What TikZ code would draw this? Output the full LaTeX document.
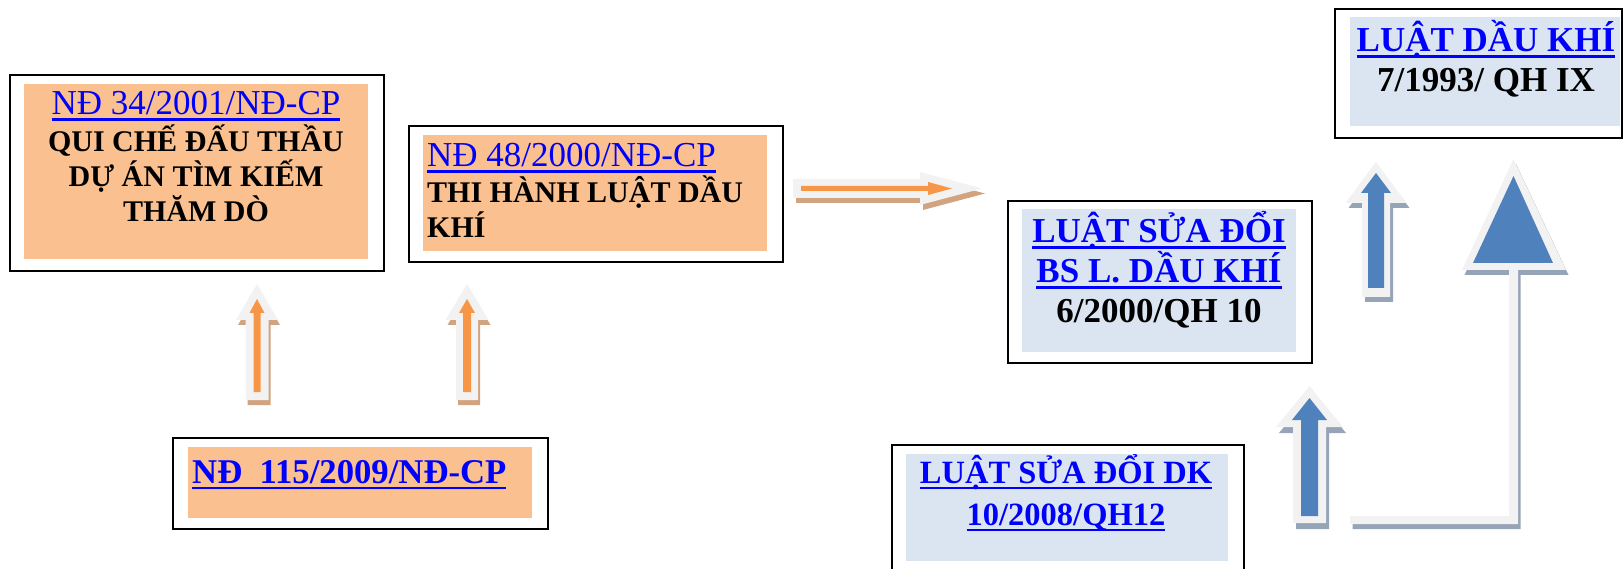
\documentclass[tikz,border=0pt]{standalone}
\usepackage{fontspec}
\setmainfont{Liberation Serif}
\definecolor{orfill}{HTML}{FAC090}
\definecolor{blfill}{HTML}{DBE5F1}
\definecolor{linkblue}{HTML}{0000FF}
\definecolor{arrorange}{HTML}{F79646}
\definecolor{arrblue}{HTML}{4F81BD}
\definecolor{arrlight}{HTML}{F2F2F2}
\definecolor{shadtan}{HTML}{D1A37F}
\definecolor{shadblue}{HTML}{96A4B7}
\newsavebox\ulbox
\newcommand\ulined[1]{\sbox\ulbox{#1}\rlap{\rule[-6pt]{\wd\ulbox}{2.5pt}}\usebox\ulbox}
% up arrow outline: head half-width, shaft half-width, head length, total length (tip at origin)
\newcommand\uppoly[4]{(0,0) -- (#1,#3) -- (#2,#3) -- (#2,#4) -- (-#2,#4) -- (-#2,#3) -- (-#1,#3) -- cycle}
\begin{document}
\begin{tikzpicture}[x=1pt,y=-1pt,
  frame/.style={draw=black,line width=2pt,fill=white,inner sep=0pt,anchor=north west},
  orpanel/.style={fill=orfill,inner sep=0pt,anchor=north west},
  blpanel/.style={fill=blfill,inner sep=0pt,anchor=north west},
  txt/.style={inner sep=0pt,anchor=base},
  txtl/.style={inner sep=0pt,anchor=base west},
  reg/.style={font=\fontsize{35}{40}\selectfont,text=linkblue},
  bld/.style={font=\fontsize{30}{36}\selectfont\bfseries},
  big/.style={font=\fontsize{35}{40}\selectfont\bfseries},
  mid/.style={font=\fontsize{32.5}{38}\selectfont\bfseries},
  lightbody/.style={fill=arrlight},
  tanshadow/.style={fill=shadtan},
  blueshadow/.style={fill=shadblue},
  orangecore/.style={fill=arrorange},
  bluecore/.style={fill=arrblue}]
\useasboundingbox (0,0) rectangle (1623,569);

% ---------- boxes ----------
\node[frame,minimum width=374,minimum height=196] (b1) at (9,74) {};
\node[orpanel,minimum width=344,minimum height=175] (b1p) at (24,84) {};
\node[frame,minimum width=374,minimum height=136] (b2) at (408,125) {};
\node[orpanel,minimum width=344,minimum height=116] (b2p) at (423,135) {};
\node[frame,minimum width=304,minimum height=162] (b3) at (1007,200) {};
\node[blpanel,minimum width=274,minimum height=143] (b3p) at (1022,209) {};
\node[frame,minimum width=287,minimum height=129] (b4) at (1334,8) {};
\node[blpanel,minimum width=270,minimum height=109] (b4p) at (1350,17) {};
\node[frame,minimum width=352,minimum height=146] (b5) at (891,444) {};
\node[blpanel,minimum width=322,minimum height=107] (b5p) at (906,454) {};
\node[frame,minimum width=375,minimum height=91] (b6) at (172,437) {};
\node[orpanel,minimum width=344,minimum height=71] (b6p) at (188,447) {};

% ---------- texts ----------
\node[txt,reg] (t1a) at (196,115) {\ulined{NĐ 34/2001/NĐ-CP}};
\node[txt,bld] (t1b) at (196,152) {QUI CHẾ ĐẤU THẦU};
\node[txt,bld] (t1c) at (196,187) {DỰ ÁN TÌM KIẾM};
\node[txt,bld] (t1d) at (196,222) {THĂM DÒ};

\node[txtl,reg] (t2a) at (427,167) {\ulined{NĐ 48/2000/NĐ-CP}};
\node[txtl,bld] (t2b) at (427,203) {THI HÀNH LUẬT DẦU};
\node[txtl,bld] (t2c) at (427,238) {KHÍ};

\node[txt,big,text=linkblue] (t3a) at (1159,243) {\ulined{LUẬT SỬA ĐỔI}};
\node[txt,big,text=linkblue] (t3b) at (1159,283) {\ulined{BS L. DẦU KHÍ}};
\node[txt,big] (t3c) at (1159,323) {6/2000/QH 10};

\node[txt,big,text=linkblue] (t4a) at (1486,52) {\ulined{LUẬT DẦU KHÍ}};
\node[txt,big] (t4b) at (1486,92) {7/1993/ QH IX};

\node[txt,mid,text=linkblue] (t5a) at (1066,483) {\ulined{LUẬT SỬA ĐỔI DK}};
\node[txt,mid,text=linkblue] (t5b) at (1066,525) {\ulined{10/2008/QH12}};

\node[txtl,font=\fontsize{34.7}{40}\selectfont\bfseries,text=linkblue] (t6) at (192,483) {\ulined{NĐ~~115/2009/NĐ-CP}};

% ---------- orange up arrows ----------
\begin{scope}[shift={(257,284)}]
  \fill[tanshadow,shift={(2,5)}] \uppoly{21}{11.5}{36}{116};
  \fill[lightbody] \uppoly{21}{11.5}{36}{116};
  \fill[orangecore,shift={(0,15)}] \uppoly{7.5}{3.5}{14}{93};
\end{scope}
\begin{scope}[shift={(467,284)}]
  \fill[tanshadow,shift={(2,5)}] \uppoly{21.5}{11}{36}{116};
  \fill[lightbody] \uppoly{21.5}{11}{36}{116};
  \fill[orangecore,shift={(0,15)}] \uppoly{8}{4}{14}{93};
\end{scope}

% ---------- orange right arrow ----------
\fill[tanshadow,shift={(3,5)}] (793,179) -- (920,179) -- (920,172) -- (982,188.5) -- (920,205) -- (920,198) -- (793,198) -- cycle;
\fill[lightbody] (793,179) -- (920,179) -- (920,172) -- (982,188.5) -- (920,205) -- (920,198) -- (793,198) -- cycle;
\fill[orangecore] (801,186) -- (928,186) -- (928,182) -- (952,188.5) -- (928,195) -- (928,191) -- (801,191) -- cycle;

% ---------- blue up arrows ----------
\begin{scope}[shift={(1376,162)}]
  \fill[blueshadow,shift={(3,5)}] \uppoly{30.5}{14}{41}{135};
  \fill[lightbody] \uppoly{30.5}{14}{41}{135};
  \fill[bluecore,shift={(0,11)}] \uppoly{15}{8}{20}{115};
\end{scope}
\begin{scope}[shift={(1309.5,386)}]
  \fill[blueshadow,shift={(3,6)}] \uppoly{33.5}{16.5}{41}{137};
  \fill[lightbody] \uppoly{33.5}{16.5}{41}{137};
  \fill[bluecore,shift={(0,12)}] \uppoly{17.5}{8.5}{22}{118};
\end{scope}

% ---------- big bent arrow ----------
\fill[blueshadow,shift={(2.5,5)}] (1350,516) -- (1509,516) -- (1509,270) -- (1462,270) -- (1513.5,159) -- (1566,270) -- (1518,270) -- (1518,524) -- (1350,524) -- cycle;
\fill[lightbody] (1350,516) -- (1509,516) -- (1509,270) -- (1462,270) -- (1513.5,159) -- (1566,270) -- (1518,270) -- (1518,524) -- (1350,524) -- cycle;
\fill[bluecore] (1473,263) -- (1513.5,176) -- (1553,263) -- cycle;
\end{tikzpicture}
\end{document}
